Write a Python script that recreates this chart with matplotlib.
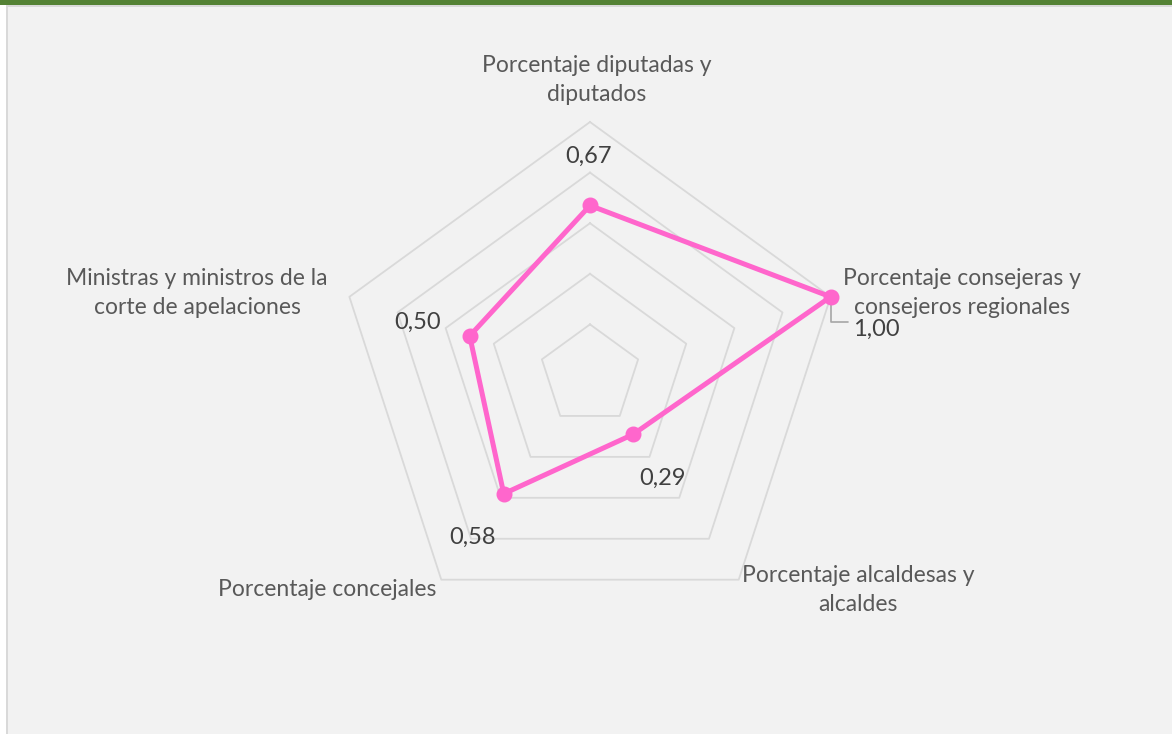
import numpy as np
import matplotlib
matplotlib.use("Agg")
import matplotlib.pyplot as plt
from matplotlib.patches import Rectangle

categories = ["Porcentaje diputadas y\ndiputados",
              "Porcentaje consejeras y\nconsejeros regionales",
              "Porcentaje alcaldesas y\nalcaldes",
              "Porcentaje concejales",
              "Ministras y ministros de la\ncorte de apelaciones"]
values = [0.67, 1.00, 0.29, 0.58, 0.50]
value_labels = ["0,67", "1,00", "0,29", "0,58", "0,50"]
rings = [0.2, 0.4, 0.6, 0.8, 1.0]

W, H = 1172, 734
fig = plt.figure(figsize=(W / 100, H / 100), dpi=100)
fig.patch.set_facecolor("white")

def fx(px):
    return px / W

def fy(py):
    return 1 - py / H

# chart area background and borders
fig.patches.append(Rectangle((fx(6), 0), 1 - fx(6), fy(5), transform=fig.transFigure,
                             facecolor="#f2f2f2", edgecolor="none", zorder=-3))
fig.patches.append(Rectangle((fx(5.5), 0), fx(2), fy(5), transform=fig.transFigure,
                             facecolor="#d9d9d9", edgecolor="none", zorder=-2))
fig.patches.append(Rectangle((fx(6), fy(7)), 1, fy(5) - fy(7), transform=fig.transFigure,
                             facecolor="#d9d9d9", edgecolor="none", zorder=-2))
fig.patches.append(Rectangle((0, fy(5)), 1, 1 - fy(5), transform=fig.transFigure,
                             facecolor="#548235", edgecolor="none", zorder=-1))

cx, cy, R = 590, 375, 253
ax = fig.add_axes([fx(cx - R), fy(cy + R), 2 * R / W, 2 * R / H], projection="polar")
ax.set_zorder(5)
ax.set_facecolor("none")
ax.patch.set_alpha(0)
ax.set_theta_offset(np.pi / 2)
ax.set_theta_direction(-1)
ax.set_ylim(0, 1)
ax.grid(False)
ax.set_xticks([])
ax.set_yticks([])
ax.spines["polar"].set_visible(False)

n = len(categories)
theta = np.arange(n) * 2 * np.pi / n
theta_c = np.append(theta, theta[0])

def straight(rvals):
    xs = rvals * np.sin(theta_c)
    ys = rvals * np.cos(theta_c)
    seg_t, seg_r = [], []
    for i in range(n):
        t = np.linspace(0, 1, 60)
        px = xs[i] + (xs[i + 1] - xs[i]) * t
        py = ys[i] + (ys[i + 1] - ys[i]) * t
        seg_t.extend(np.arctan2(px, py))
        seg_r.extend(np.hypot(px, py))
    return seg_t, seg_r

# pentagon grid
for r in rings:
    st, sr = straight(np.full(n + 1, r))
    ax.plot(st, sr, color="#d9d9d9", lw=1.3, zorder=1, clip_on=False)

# data line
st, sr = straight(np.append(values, values[0]))
ax.plot(st, sr, color="#ff66cc", lw=3.6, zorder=3, clip_on=False,
        solid_joinstyle="round")
ax.plot(theta, values, "o", color="#ff66cc", ms=10.5, zorder=4, clip_on=False)

font = "Lato"
cat_col = "#595959"
val_col = "#404040"
fs_cat = 16.5
fs_val = 17

# category labels (pixel anchor centers)
cat_pos = [(597, 80), (962, 293), (858, 590), (327, 589), (197, 293)]
for lab, (px, py) in zip(categories, cat_pos):
    fig.text(fx(px), fy(py), lab, ha="center", va="center", fontsize=fs_cat,
             color=cat_col, family=font, linespacing=1.5)

# value labels offsets in pixels
offsets = [(-1, 49), (46, -33), (29, -44), (-31, -44), (-52, 14)]
for th, v, lab, (dx, dy) in zip(theta, values, value_labels, offsets):
    ax.annotate(lab, xy=(th, v), xytext=(dx, dy), textcoords="offset pixels",
                ha="center", va="center", fontsize=fs_val, color=val_col,
                family=font, zorder=5, annotation_clip=False)

# leader line for the 1,00 label
ax.annotate("", xy=(theta[1], values[1]), xytext=(17, -25), textcoords="offset pixels",
            arrowprops=dict(arrowstyle="-", color="#a6a6a6", lw=1.2,
                            connectionstyle="angle,angleA=0,angleB=90,rad=0",
                            shrinkA=0, shrinkB=0), zorder=2, annotation_clip=False)

fig.savefig("out.png", dpi=100, facecolor=fig.get_facecolor())
